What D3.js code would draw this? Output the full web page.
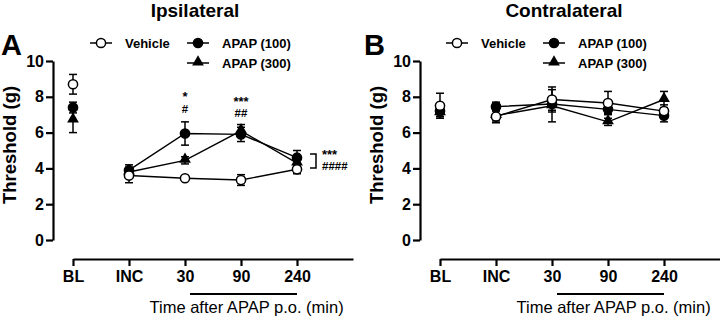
<!DOCTYPE html>
<html>
<head>
<meta charset="utf-8">
<script src="https://cdn.jsdelivr.net/npm/d3@7"></script>
<style>
  body { margin: 0; background: #fff; }
  svg { font-family: "Liberation Sans", Arial, sans-serif; }
</style>
</head>
<body>
<div id="chart"></div>
<script>
// Categories on the x axis
const categories = ["BL", "INC", "30", "90", "240"]
const seriesNames = ["Vehicle", "APAP (100)", "APAP (300)"]
const yTicks = [0, 2, 4, 6, 8, 10]

// Ipsilateral means and SEM
const ipsiVehicle = [8.7, 3.6, 3.45, 3.35, 3.95]
const ipsiVehicleErr = [0.55, 0.4, 0.1, 0.3, 0.25]
const ipsi100 = [7.4, 3.9, 5.95, 5.9, 4.6]
const ipsi100Err = [0.3, 0.3, 0.65, 0.4, 0.4]
const ipsi300 = [6.7, 3.8, 4.45, 6.1, 4.3]
const ipsi300Err = [0.7, 0.25, 0.2, 0.35, 0.3]

// Contralateral means and SEM
const contraVehicle = [7.5, 6.9, 7.85, 7.65, 7.2]
const contraVehicleErr = [0.7, 0.35, 0.7, 0.65, 0.35]
const contra100 = [7.2, 7.45, 7.6, 7.3, 6.95]
const contra100Err = [0.3, 0.25, 0.35, 0.25, 0.35]
const contra300 = [7.1, 6.95, 7.5, 6.6, 7.85]
const contra300Err = [0.3, 0.3, 0.9, 0.2, 0.45]

// Significance marks (ipsilateral)
const sigStars = [["30", "*"], ["90", "***"]]
const sigHashes = [["30", "#"], ["90", "##"]]

const width = 720
const height = 320

const svg = d3.select("#chart")
  .append("svg")
  .attr("width", width)
  .attr("height", height)

/**
 * Draw one panel
 */
function makePanel(opt) {
  const ox = opt.axisX
  const g = svg.append("g")

  const xScale = d3.scaleLinear()
    .domain([0, categories.length])
    .range([ox + 20, ox + 20 + categories.length * 56])

  const yScale = d3.scaleLinear()
    .domain([0, 10])
    .range([240, 61])

  // y axis
  const yAxis = d3.axisLeft(yScale).tickValues(yTicks).tickSize(7).tickSizeOuter(0).tickPadding(2)
  const ya = g.append("g")
    .attr("transform", "translate(" + ox + ",0)")
    .call(yAxis)
  ya.select(".domain").attr("stroke-width", 2.2)
  ya.selectAll(".tick line").attr("stroke-width", 2.2)
  ya.selectAll("text").attr("font-size", 16).attr("font-weight", "bold")
    .attr("font-family", "Liberation Sans, Arial, sans-serif").attr("fill", "#000")

  // x axis
  const xAxis = d3.axisBottom(xScale)
    .tickValues(d3.range(categories.length))
    .tickFormat(i => categories[i])
    .tickSize(7).tickSizeOuter(0).tickPadding(5)
  const xa = g.append("g")
    .attr("transform", "translate(0,259)")
    .call(xAxis)
  xa.select(".domain").attr("stroke-width", 2.2)
  xa.selectAll(".tick line").attr("stroke-width", 2.2)
  xa.selectAll("text").attr("font-size", 16).attr("font-weight", "bold")
    .attr("font-family", "Liberation Sans, Arial, sans-serif").attr("fill", "#000")

  // underline for post-dose time points
  g.append("line")
    .attr("x1", xScale(2) + 5).attr("x2", xScale(4))
    .attr("y1", 294).attr("y2", 294)
    .attr("stroke", "#000").attr("stroke-width", 2)

  g.append("text")
    .attr("x", xScale(3.1))
    .attr("y", 313)
    .attr("text-anchor", "middle")
    .attr("font-size", 16.5)
    .text("Time after APAP p.o. (min)")

  // y label
  g.append("text")
    .attr("transform", "translate(" + (ox - 37) + ",145) rotate(-90)")
    .attr("text-anchor", "middle")
    .attr("font-size", 18.5)
    .attr("font-weight", "bold")
    .text("Threshold (g)")

  // title and panel letter
  g.append("text")
    .attr("x", opt.titleX).attr("y", 17)
    .attr("text-anchor", "middle")
    .attr("font-size", 19).attr("font-weight", "bold")
    .text(opt.title)

  g.append("text")
    .attr("x", opt.letterX).attr("y", 55)
    .attr("font-size", 29).attr("font-weight", "bold")
    .text(opt.letter)

  // series, drawn triangles first so the open circles end up on top
  const order = [2, 1, 0]
  order.forEach(s => {
    const vals = opt.values[s]
    const errs = opt.errors[s]
    const pts = vals.map((v, i) => ({ i: i, v: v, e: errs[i] }))

    // connecting line INC -> 240 (baseline not connected)
    const line = d3.line().x(d => xScale(d.i)).y(d => yScale(d.v))
    g.append("path")
      .datum(pts.slice(1))
      .attr("d", line)
      .attr("fill", "none")
      .attr("stroke", "#000")
      .attr("stroke-width", 1.4)
  })

  order.forEach(s => {
    const pts = opt.values[s].map((v, i) => ({ i: i, v: v, e: opt.errors[s][i] }))
    const eg = g.append("g").attr("stroke", "#000").attr("stroke-width", 1.5)
    pts.forEach(d => {
      const x = xScale(d.i)
      eg.append("line").attr("x1", x).attr("x2", x)
        .attr("y1", yScale(d.v - d.e)).attr("y2", yScale(d.v + d.e))
      eg.append("line").attr("x1", x - 4).attr("x2", x + 4)
        .attr("y1", yScale(d.v + d.e)).attr("y2", yScale(d.v + d.e))
      eg.append("line").attr("x1", x - 4).attr("x2", x + 4)
        .attr("y1", yScale(d.v - d.e)).attr("y2", yScale(d.v - d.e))
    })
    pts.forEach(d => drawMarker(g, s, xScale(d.i), yScale(d.v)))
  })

  // legend
  const lg = g.append("g")
  const legendPos = [[opt.legendX, 43], [opt.legendX + 97, 43], [opt.legendX + 97, 63]]
  seriesNames.forEach((name, s) => {
    const [lx, ly] = legendPos[s]
    lg.append("line")
      .attr("x1", lx - 11).attr("x2", lx + 11)
      .attr("y1", ly).attr("y2", ly)
      .attr("stroke", "#000").attr("stroke-width", 1.5)
    drawMarker(lg, s, lx, ly)
    lg.append("text")
      .attr("x", lx + 24).attr("y", ly + 5)
      .attr("font-size", 13).attr("font-weight", "bold")
      .text(name)
  })

  return { xScale, yScale, g }
}

function drawMarker(g, s, x, y) {
  if (s === 2) {
    g.append("path")
      .attr("d", d3.symbol().type(d3.symbolTriangle).size(60)())
      .attr("transform", "translate(" + x + "," + (y - 1) + ")")
      .attr("fill", "#000")
  } else {
    g.append("circle")
      .attr("cx", x).attr("cy", y).attr("r", 4.6)
      .attr("fill", s === 0 ? "#fff" : "#000")
      .attr("stroke", "#000").attr("stroke-width", 1.5)
  }
}

const panelA = makePanel({
  axisX: 53, title: "Ipsilateral", titleX: 195, letter: "A", letterX: 1, legendX: 101,
  values: [ipsiVehicle, ipsi100, ipsi300],
  errors: [ipsiVehicleErr, ipsi100Err, ipsi300Err]
})

makePanel({
  axisX: 420, title: "Contralateral", titleX: 564, letter: "B", letterX: 364, legendX: 457,
  values: [contraVehicle, contra100, contra300],
  errors: [contraVehicleErr, contra100Err, contra300Err]
})

// significance annotations on panel A
const xA = panelA.xScale
sigStars.forEach(([c, t], k) => {
  panelA.g.append("text")
    .attr("x", xA(categories.indexOf(c))).attr("y", k === 0 ? 101 : 106)
    .attr("text-anchor", "middle").attr("font-size", 13).attr("font-weight", "bold")
    .text(t)
})
sigHashes.forEach(([c, t], k) => {
  panelA.g.append("text")
    .attr("x", xA(categories.indexOf(c))).attr("y", k === 0 ? 113 : 117)
    .attr("text-anchor", "middle").attr("font-size", 11.5).attr("font-weight", "bold")
    .text(t)
})

// bracket at 240 min
panelA.g.append("path")
  .attr("d", "M310,154 H316 V168 H310")
  .attr("fill", "none").attr("stroke", "#000").attr("stroke-width", 1.5)
panelA.g.append("text")
  .attr("x", 322).attr("y", 159)
  .attr("font-size", 13).attr("font-weight", "bold")
  .text("***")
panelA.g.append("text")
  .attr("x", 322).attr("y", 170)
  .attr("font-size", 11.5).attr("font-weight", "bold")
  .text("####")
</script>
</body>
</html>
